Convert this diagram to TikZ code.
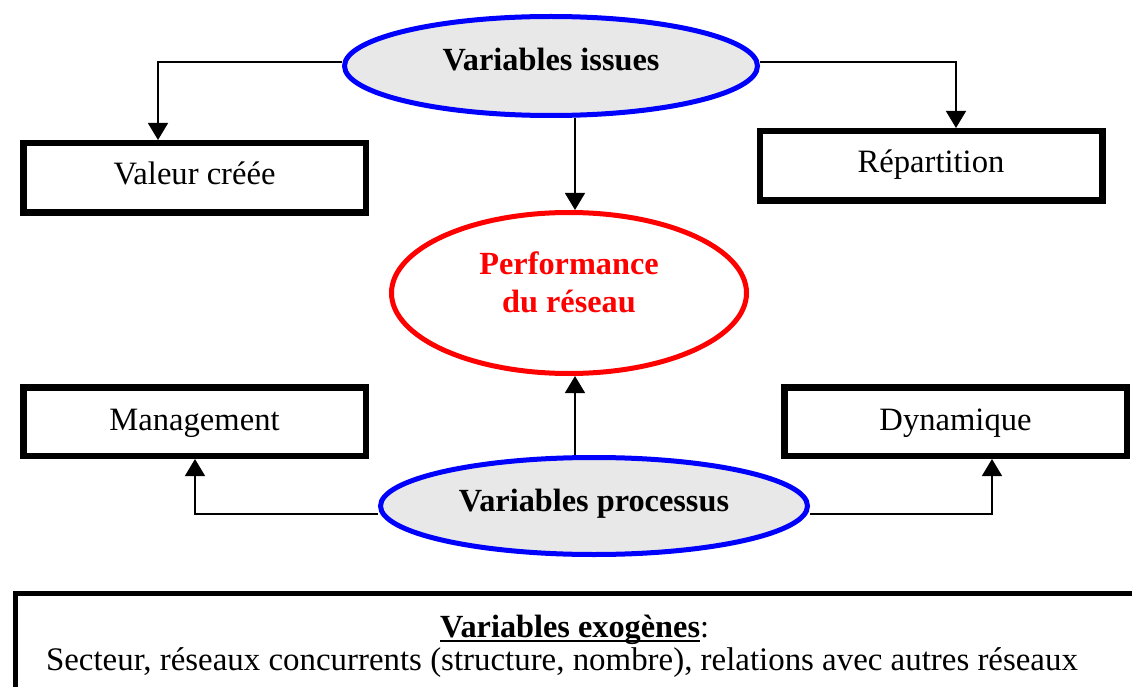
\documentclass[tikz,border=0pt]{standalone}
\usepackage{fontspec}
\setmainfont{Liberation Serif}
\usetikzlibrary{shapes.geometric,arrows.meta}
\definecolor{ellfill}{RGB}{232,232,232}
\begin{document}
\begin{tikzpicture}[x=1pt,y=-1pt,
  every node/.style={font=\fontsize{32.6}{38}\selectfont},
  boxnode/.style={draw=black,line width=6.5pt,fill=white,rectangle,minimum width=342.5pt,minimum height=69.5pt,inner sep=0pt,text height=22pt,text depth=8pt},
  varell/.style={draw=blue,line width=5pt,fill=ellfill,ellipse,inner sep=0pt,font=\fontsize{32.3}{38}\selectfont\bfseries,text height=20pt,text depth=10pt},
  perfell/.style={draw=red,line width=5pt,fill=white,ellipse,minimum width=355pt,minimum height=161pt,inner sep=0pt,text=red,align=center,font=\fontsize{32.3}{38}\selectfont\bfseries,text height=60pt,text depth=22pt},
  conn/.style={line width=1.5pt,-{Triangle[width=20pt,length=17pt]}},
  exobox/.style={draw=black,line width=5pt,rectangle,inner sep=0pt,minimum width=1124.5pt,minimum height=95.5pt}
]
\useasboundingbox (0,0) rectangle (1132,687);
\clip (0,0) rectangle (1132,687);
% nodes
\node[varell,minimum width=413pt,minimum height=99pt] (vi) at (551,66) {Variables issues};
\node[boxnode] (val) at (194.5,178) {Valeur créée};
\node[boxnode] (rep) at (931,166) {Répartition};
\node[perfell] (perf) at (569,293) {Performance\\du réseau};
\node[boxnode,minimum height=68.5pt,text depth=5pt] (man) at (194.5,421.5) {Management};
\node[boxnode,minimum height=68.5pt,text depth=5pt] (dyn) at (955.5,421.5) {Dynamique};
\node[varell,minimum width=427pt,minimum height=97pt] (vp) at (594,506) {Variables processus};
\node[exobox] (exo) at (577.75,641.25) {};
\node[anchor=base west,inner sep=0pt,font=\fontsize{32.3}{38}\selectfont\bfseries] (exot) at (440,637) {Variables exogènes\rlap{\mdseries:}};
\draw[line width=2.5pt] ([yshift=-4pt]exot.base west) -- ([yshift=-4pt]exot.base east);
\node[anchor=base,font=\fontsize{32.9}{38}\selectfont] (exol) at (562,670) {Secteur, réseaux concurrents (structure, nombre), relations avec autres réseaux};
% helper coordinates
\coordinate (cx) at (575,0);
\coordinate (cvl) at (158,0);
\coordinate (cvr) at (956,0);
\coordinate (cml) at (195,0);
\coordinate (cdr) at (992,0);
% connectors
\draw[conn] ([yshift=4pt]vi.west) -| (val.north -| cvl);
\draw[conn] ([yshift=4pt]vi.east) -| (rep.north -| cvr);
\draw[conn] (vi.south -| cx) -- (perf.north -| cx);
\draw[conn] (vp.north -| cx) -- (perf.south -| cx);
\draw[conn] ([yshift=-8pt]vp.west) -| (man.south -| cml);
\draw[conn] ([yshift=-8pt]vp.east) -| (dyn.south -| cdr);
\end{tikzpicture}
\end{document}
